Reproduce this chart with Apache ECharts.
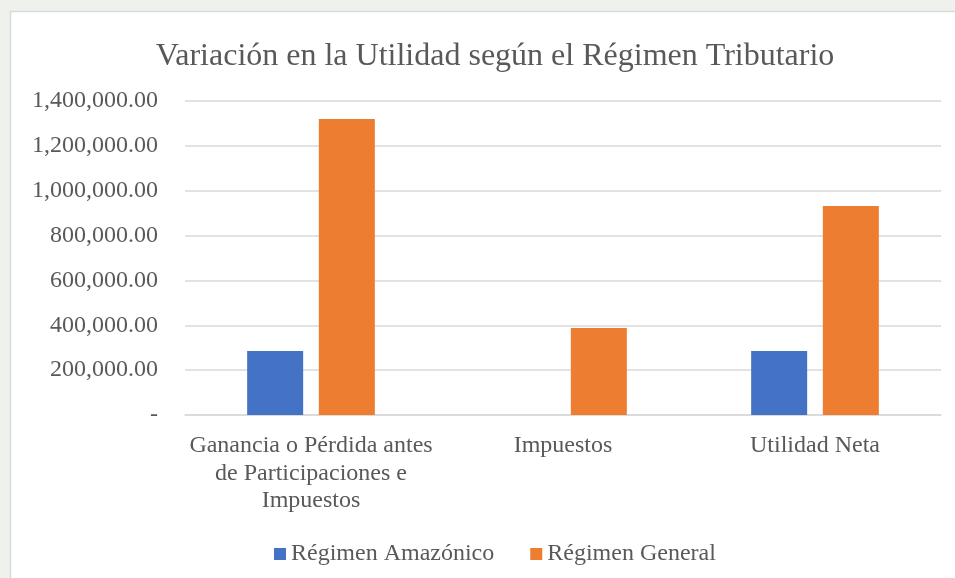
<!DOCTYPE html>
<html>
<head>
<meta charset="utf-8">
<script src="https://cdn.jsdelivr.net/npm/echarts@6/dist/echarts.min.js"></script>
<style>
  html, body { margin: 0; padding: 0; background: #eef1ec; }
  #chart { width: 955px; height: 578px; }
</style>
</head>
<body>
<div id="chart"></div>
<script>
const categories = [
  'Ganancia o Pérdida antes de Participaciones e Impuestos',
  'Impuestos',
  'Utilidad Neta'
];
const seriesNames = ['Régimen Amazónico', 'Régimen General'];
const amazonico = [285000, 0, 285000];
const general = [1320000, 388000, 932000];

const textColor = '#595959';
const font = '"Liberation Serif", "Times New Roman", serif';

const chart = echarts.init(document.getElementById('chart'));

// accounting style: zero shows as a dash
const fmt = (v) => v === 0 ? '-' :
  v.toLocaleString('en-US', { minimumFractionDigits: 2, maximumFractionDigits: 2 });

chart.setOption({
  backgroundColor: 'transparent',
  textStyle: { fontFamily: font, color: textColor },
  graphic: [{
    type: 'rect',
    z: -10,
    shape: { x: 10.5, y: 11.5, width: 980, height: 600 },
    style: { fill: '#ffffff', stroke: '#d9d9d9', lineWidth: 1.5 }
  }],
  title: {
    text: 'Variación en la Utilidad según el Régimen Tributario',
    left: 490,
    textAlign: 'center',
    top: 36,
    textStyle: { fontFamily: font, fontSize: 32, fontWeight: 'normal', color: textColor }
  },
  legend: {
    data: seriesNames,
    top: 537,
    left: 269,
    icon: 'rect',
    itemWidth: 12,
    itemHeight: 12,
    itemGap: 36,
    textStyle: { fontFamily: font, fontSize: 24, color: textColor }
  },
  grid: { left: 185, right: 14, top: 101, bottom: 163, containLabel: false },
  xAxis: {
    type: 'category',
    data: categories,
    axisLine: { lineStyle: { color: '#d9d9d9', width: 1.5 } },
    axisTick: { show: false },
    axisLabel: {
      fontFamily: font,
      fontSize: 24,
      color: textColor,
      lineHeight: 27.5,
      margin: 17,
      width: 258,
      overflow: 'break',
      interval: 0
    }
  },
  yAxis: {
    type: 'value',
    min: 0,
    max: 1400000,
    interval: 200000,
    axisLine: { show: false },
    axisTick: { show: false },
    splitLine: { lineStyle: { color: '#d9d9d9', width: 1.5 } },
    axisLabel: {
      fontFamily: font,
      fontSize: 24,
      color: textColor,
      margin: 27,
      formatter: fmt
    }
  },
  series: [
    {
      name: seriesNames[0],
      type: 'bar',
      data: amazonico,
      barWidth: 56,
      barGap: '28%',
      itemStyle: { color: '#4472C4' }
    },
    {
      name: seriesNames[1],
      type: 'bar',
      data: general,
      barWidth: 56,
      barGap: '28%',
      itemStyle: { color: '#ED7D31' }
    }
  ]
});
</script>
</body>
</html>
